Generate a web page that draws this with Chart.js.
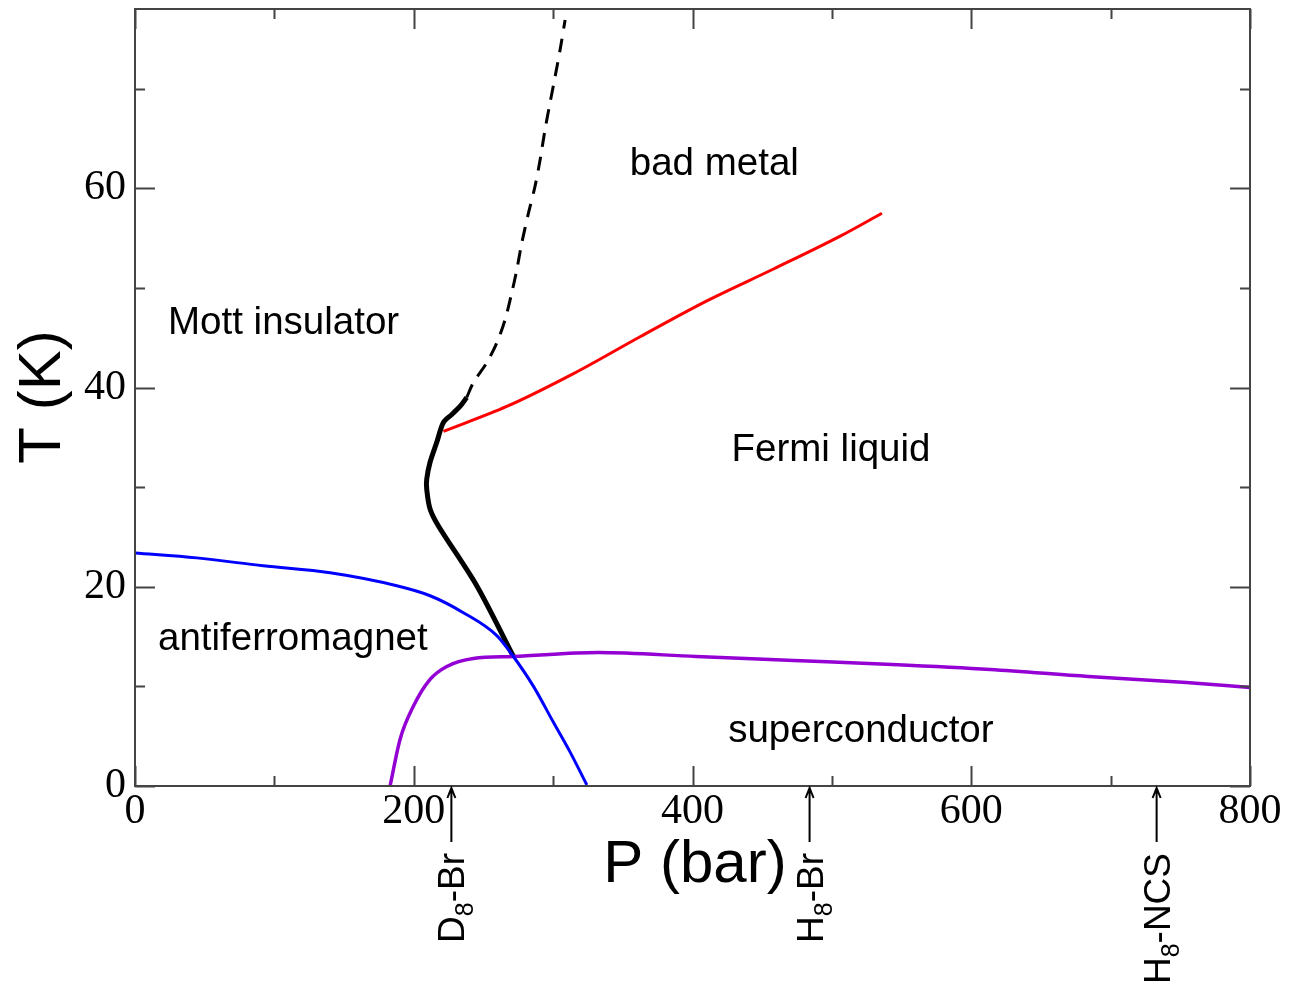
<!DOCTYPE html>
<html>
<head>
<meta charset="utf-8">
<script src="https://cdn.jsdelivr.net/npm/chart.js@4.4.1/dist/chart.umd.min.js"></script>
<style>
html, body { margin:0; padding:0; background:#fff; }
#wrap { width:1296px; height:982px; }
</style>
</head>
<body>
<div id="wrap"><canvas id="phase" width="1296" height="982"></canvas></div>
<script>
// tick values
const xTicks = [0, 100, 200, 300, 400, 500, 600, 700, 800];
const yTicks = [0, 10, 20, 30, 40, 50, 60, 70];

// Mott transition line (solid part, then the dashed crossover)
const mottP   = [271.5, 245.2, 217.7, 211.7, 209.3, 209.3, 211.7, 216.5, 221.3, 227.3, 233.2, 238];
const mottT   = [13.0, 20.1, 26.1, 27.8, 29.8, 30.8, 32.5, 34.5, 36.5, 37.3, 38.1, 39.0];
const crossP  = [238, 242.8, 252.4, 259.6, 265.5, 270.3, 273.9, 277.5, 282.3, 287, 290.7, 294.2, 297.8, 301.4, 305, 308.6];
const crossT  = [39.0, 40.5, 42.5, 44.5, 46.8, 49.5, 51.8, 54.5, 57.5, 60.2, 62.9, 65.9, 68.6, 71.2, 73.9, 76.9];
// Fermi liquid / bad metal
const flP     = [221.3, 266.7, 314.6, 362.4, 410.3, 458.1, 506, 535.9];
const flT     = [35.6, 38.1, 41.4, 45.1, 48.7, 51.9, 55.2, 57.5];
// Neel line
const afP     = [0, 44.3, 92, 140, 187.8, 211.7, 235.6, 259.6, 271.5, 285.9, 300.2, 312.2, 324.2];
const afT     = [23.4, 22.9, 22.1, 21.4, 20.1, 19.1, 17.4, 15.1, 13.0, 10.0, 6.4, 3.4, 0.1];
// superconducting Tc
const scP     = [183, 190.2, 199.7, 211.7, 223.7, 242.8, 271.5, 332.3, 402.6, 472.9, 543.3, 613.6, 683.9, 754.3, 800];
const scT     = [0, 4.7, 8.0, 10.7, 12.0, 12.8, 13.0, 13.4, 13.0, 12.6, 12.2, 11.7, 11.0, 10.4, 9.9];

// region labels (left edge P, centre T)
const regionNames = ['Mott insulator', 'bad metal', 'Fermi liquid', 'antiferromagnet', 'superconductor'];
const regionP     = [23.7, 355, 428, 16.5, 425.6];
const regionT     = [46.4, 62.4, 33.7, 14.7, 5.5];

// compounds marked under the P axis
const markerP    = [227, 484, 733];
const markerMain = ['D', 'H', 'H'];
const markerSub  = ['8', '8', '8'];
const markerTail = ['-Br', '-Br', '-NCS'];

const pts = (xs, ys) => xs.map((x, i) => ({ x: x, y: ys[i] }));

function lineSet(xs, ys, color, width, dash, mono) {
    return {
        data           : pts(xs, ys),
        showLine       : true,
        borderColor    : color,
        backgroundColor: color,
        borderWidth    : width,
        borderDash     : dash || [],
        pointRadius    : 0,
        tension        : 0.3,
        cubicInterpolationMode: mono ? 'monotone' : 'default',
        fill           : false,
    };
}

const decor = {
    id: 'decor',
    afterDraw(chart) {
        const ctx = chart.ctx;
        const a = chart.chartArea;
        const xs = chart.scales.x, ys = chart.scales.y;
        ctx.save();

        // frame
        ctx.strokeStyle = '#444';
        ctx.lineWidth = 2;
        ctx.strokeRect(a.left, a.top, a.right - a.left, a.bottom - a.top);

        // inward ticks on all four sides
        ctx.beginPath();
        xTicks.forEach(v => {
            const px = Math.round(xs.getPixelForValue(v)) + 0.5;
            const len = v % 200 === 0 ? 20 : 10;
            ctx.moveTo(px, a.bottom); ctx.lineTo(px, a.bottom - len);
            ctx.moveTo(px, a.top);    ctx.lineTo(px, a.top + len);
        });
        yTicks.forEach(v => {
            const py = Math.round(ys.getPixelForValue(v)) + 0.5;
            const len = v % 20 === 0 ? 20 : 10;
            ctx.moveTo(a.left, py);  ctx.lineTo(a.left + len, py);
            ctx.moveTo(a.right, py); ctx.lineTo(a.right - len, py);
        });
        ctx.stroke();

        // region labels
        ctx.fillStyle = '#000';
        ctx.font = '38.5px "Liberation Sans", Arial, sans-serif';
        ctx.textAlign = 'left';
        ctx.textBaseline = 'middle';
        regionNames.forEach((n, i) => {
            ctx.fillText(n, xs.getPixelForValue(regionP[i]), ys.getPixelForValue(regionT[i]));
        });

        // axis titles
        ctx.font = '60px "Liberation Sans", Arial, sans-serif';
        ctx.textAlign = 'center';
        ctx.textBaseline = 'alphabetic';
        ctx.fillText('P (bar)', 695, 882);
        ctx.save();
        ctx.translate(60, 397);
        ctx.rotate(-Math.PI / 2);
        ctx.fillText('T (K)', 0, 0);
        ctx.restore();

        // compound arrows + rotated labels
        ctx.strokeStyle = '#000';
        ctx.lineWidth = 2;
        markerP.forEach((p, i) => {
            const px = xs.getPixelForValue(p);
            const tip = a.bottom + 2;
            ctx.beginPath();
            ctx.moveTo(px, tip); ctx.lineTo(px, tip + 54);
            ctx.moveTo(px - 4, tip + 10); ctx.lineTo(px, tip); ctx.lineTo(px + 4, tip + 10);
            ctx.stroke();

            const bigF = '37px "Liberation Sans", Arial, sans-serif';
            const subF = '25px "Liberation Sans", Arial, sans-serif';
            ctx.font = bigF;
            const w1 = ctx.measureText(markerMain[i]).width;
            const w3 = ctx.measureText(markerTail[i]).width;
            ctx.font = subF;
            const w2 = ctx.measureText(markerSub[i]).width;
            const total = w1 + w2 + w3;

            ctx.save();
            ctx.translate(px + 13, 853);
            ctx.rotate(-Math.PI / 2);
            ctx.textAlign = 'left';
            ctx.textBaseline = 'alphabetic';
            let cx = -total;
            ctx.font = bigF;
            ctx.fillText(markerMain[i], cx, 0); cx += w1;
            ctx.font = subF;
            ctx.fillText(markerSub[i], cx, 9); cx += w2;
            ctx.font = bigF;
            ctx.fillText(markerTail[i], cx, 0);
            ctx.restore();
        });

        ctx.restore();
    }
};

const tickFont = { family: '"Liberation Serif", "Times New Roman", serif', size: 42 };

new Chart(document.getElementById('phase'), {
    type: 'scatter',
    data: {
        datasets: [
            lineSet(afP, afT, '#0000ff', 3, null, true),
            lineSet(scP, scT, '#9400d3', 3.5, null, true),
            lineSet(flP, flT, '#ff0000', 3, null, true),
            lineSet(crossP, crossT, '#000000', 3, [14, 10], false),
            lineSet(mottP, mottT, '#000000', 5, null, false),
        ]
    },
    options: {
        responsive: false,
        animation : false,
        layout    : { padding: { top: 9, right: 46, bottom: 46, left: 0 } },
        plugins   : { legend: { display: false }, tooltip: { enabled: false } },
        scales: {
            x: {
                type: 'linear', min: 0, max: 800, position: 'bottom',
                afterBuildTicks: s => { s.ticks = xTicks.map(v => ({ value: v })); },
                afterFit: s => { s.height = 150; s.paddingLeft = 0; s.paddingRight = 0; },
                ticks: {
                    autoSkip: false, maxRotation: 0, padding: 1, color: '#000', font: tickFont,
                    callback: v => v % 200 === 0 ? String(v) : '',
                },
                grid  : { display: false, drawTicks: false },
                border: { display: false },
            },
            y: {
                type: 'linear', min: 0, max: 78,
                afterBuildTicks: s => { s.ticks = yTicks.map(v => ({ value: v })); },
                afterFit: s => { s.width = 135; s.paddingTop = 0; s.paddingBottom = 0; },
                ticks: {
                    autoSkip: false, padding: 9, color: '#000', font: tickFont,
                    callback: v => v % 20 === 0 ? String(v) : '',
                },
                grid  : { display: false, drawTicks: false },
                border: { display: false },
            }
        }
    },
    plugins: [decor]
});
</script>
</body>
</html>
